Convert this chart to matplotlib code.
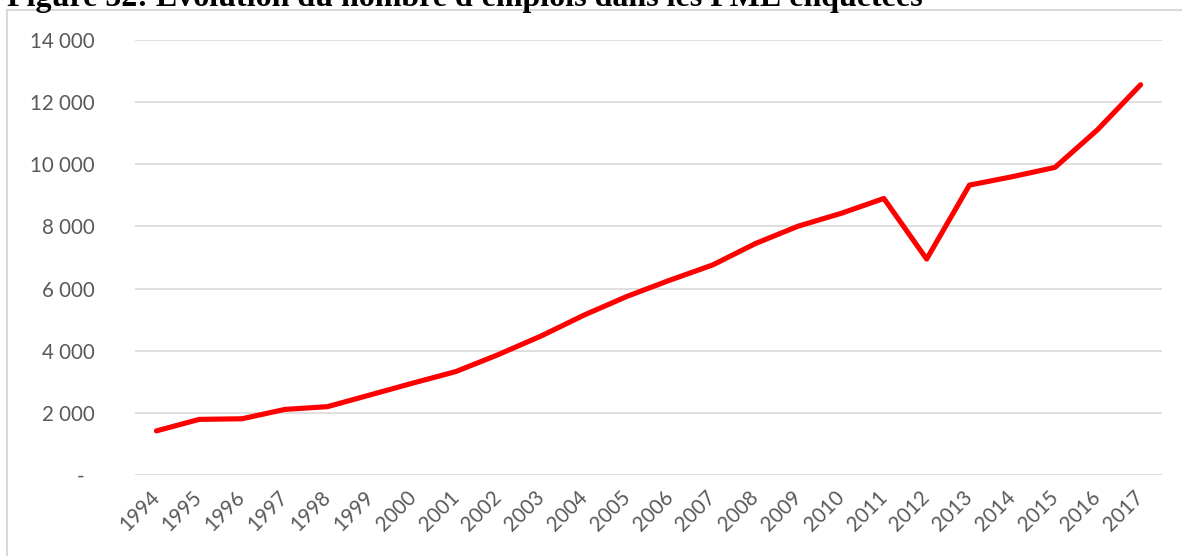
import matplotlib
matplotlib.use("Agg")
import matplotlib.pyplot as plt
from matplotlib.lines import Line2D

years = [str(y) for y in range(1994, 2018)]
emplois = [1420, 1790, 1810, 2110, 2200, 2580, 2960, 3330, 3880, 4480,
           5150, 5750, 6270, 6760, 7450, 8010, 8420, 8900, 6950, 9330,
           9600, 9900, 11120, 12560]
y_ticks = [0, 2000, 4000, 6000, 8000, 10000, 12000, 14000]
y_labels = ["-  ", "2 000", "4 000", "6 000", "8 000", "10 000", "12 000", "14 000"]
title = "Figure 52: Evolution du nombre d'emplois dans les PME enquêtées"

W, H = 1182, 556
fig = plt.figure(figsize=(W / 100, H / 100), dpi=100)
ax = fig.add_axes([135 / W, 1 - 475 / H, (1162 - 135) / W, (475 - 40) / H])

x = list(range(len(years)))
ax.plot(x, emplois, color="#ff0000", lw=3.7, solid_capstyle="round",
        solid_joinstyle="round", zorder=3)

ax.set_xlim(-0.5, len(years) - 0.5)
ax.set_ylim(0, 14000)
ax.set_yticks(y_ticks)
ax.set_yticklabels(y_labels)
ax.set_xticks(x)
ax.set_xticklabels(years, rotation=45, ha="right", va="center",
                   rotation_mode="anchor")
ax.grid(axis="y", color="#d9d9d9", lw=1.2, zorder=0)
ax.set_axisbelow(True)
for s in ax.spines.values():
    s.set_visible(False)
ax.tick_params(axis="both", length=0, colors="#595959", labelsize=14.8)
ax.tick_params(axis="y", pad=29)
ax.tick_params(axis="x", pad=14)
for lbl in ax.get_xticklabels() + ax.get_yticklabels():
    lbl.set_fontfamily("Lato")

# chart frame
fig.add_artist(Line2D([7 / W, 7 / W], [1 - 10 / H, 0], color="#d9d9d9",
                      lw=1.5, transform=fig.transFigure))
fig.add_artist(Line2D([7 / W, 1], [1 - 10 / H, 1 - 10 / H], color="#d9d9d9",
                      lw=1.5, transform=fig.transFigure))

# heading above the chart, sized to its line width
t = fig.text(7 / W, 1 - 6 / H, title, fontfamily="Liberation Serif",
             fontweight="bold", fontsize=20, va="baseline", ha="left")
fig.canvas.draw()
w = t.get_window_extent(fig.canvas.get_renderer()).width
t.set_fontsize(20 * 915 / w)

fig.savefig("out.png", dpi=100)
